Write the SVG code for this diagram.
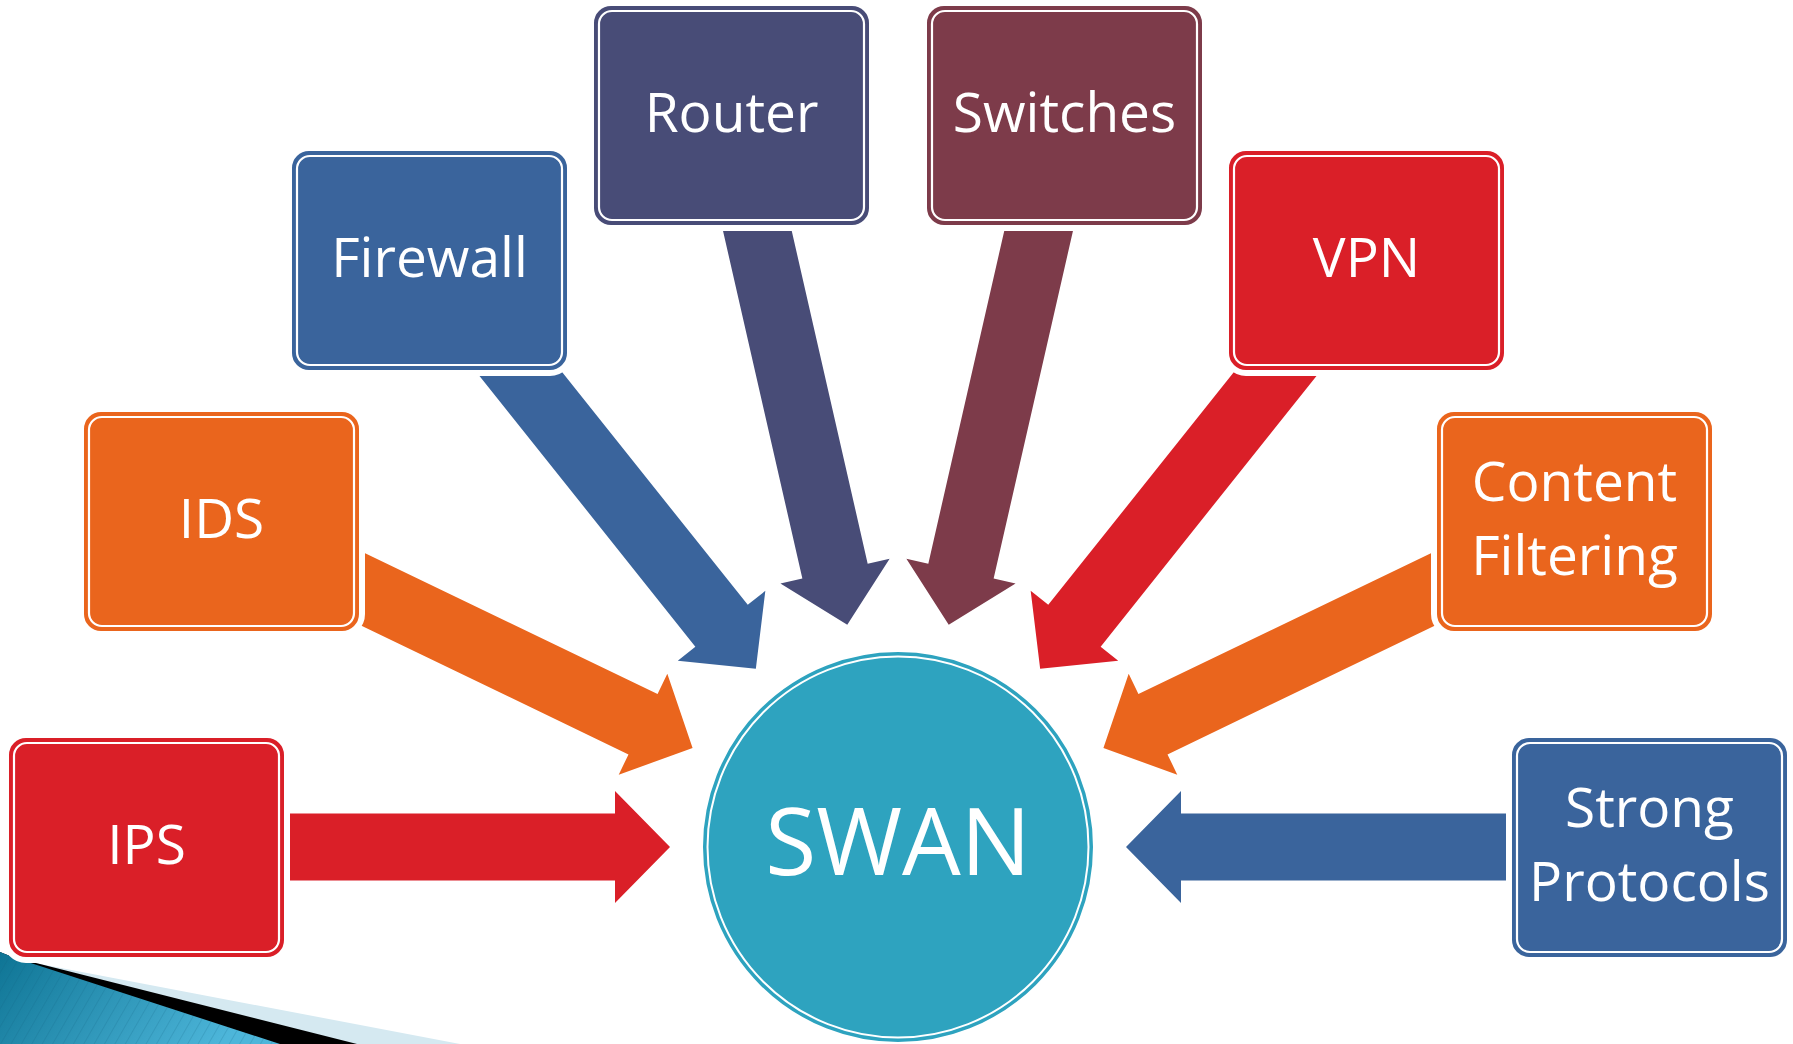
<svg xmlns="http://www.w3.org/2000/svg" width="1793" height="1044" viewBox="0 0 1793 1044">
<style>
.halo{fill:#fff;stroke:#fff;stroke-width:14}
.inner{fill:none;stroke:#fff;stroke-width:2.2}
.lbl{font-family:"Open Sans","Noto Sans","Liberation Sans",sans-serif;fill:#fff;font-size:55px;text-anchor:middle}
.red{fill:#DA1F28;stroke:#DA1F28}
.orange{fill:#EA651D;stroke:#EA651D}
.blue{fill:#3A649C;stroke:#3A649C}
.navy{fill:#484C77;stroke:#484C77}
.maroon{fill:#7D3B4A;stroke:#7D3B4A}
.box{stroke-width:2}
</style>
<defs>
<path id="arr" d="M228,0 L283,56 L283,33.5 L690,33.5 L690,-33.5 L283,-33.5 L283,-56 Z"/>
<linearGradient id="bg" x1="0" y1="0" x2="1" y2="0.3">
<stop offset="0" stop-color="#0E7494"/>
<stop offset="1" stop-color="#4DB6DA"/>
</linearGradient>
<pattern id="stripes" width="9" height="9" patternUnits="userSpaceOnUse" patternTransform="rotate(30)">
<rect width="9" height="9" fill="none"/>
<line x1="0" y1="0" x2="0" y2="9" stroke="#0A5E7A" stroke-width="1.5" stroke-opacity="0.25"/>
</pattern>
</defs>

<g id="decoration">
<polygon points="0,952 15,958 40,964 460,1044 0,1044" fill="#D5E9F1"/>
<polygon points="0,952 15,958 40,964 357,1044 0,1044" fill="#000"/>
<polygon points="0,952 15,958 40,966 280,1044 0,1044" fill="url(#bg)"/>
<polygon points="0,952 15,958 40,966 280,1044 0,1044" fill="url(#stripes)"/>
</g>

<g id="connectors">
<use href="#arr" transform="translate(898,847) rotate(180)" fill="#DA1F28"/>
<use href="#arr" transform="translate(898,847) rotate(205.714)" fill="#EA651D"/>
<use href="#arr" transform="translate(898,847) rotate(231.429)" fill="#3A649C"/>
<use href="#arr" transform="translate(898,847) rotate(257.143)" fill="#484C77"/>
<use href="#arr" transform="translate(898,847) rotate(282.857)" fill="#7D3B4A"/>
<use href="#arr" transform="translate(898,847) rotate(308.571)" fill="#DA1F28"/>
<use href="#arr" transform="translate(898,847) rotate(334.286)" fill="#EA651D"/>
<use href="#arr" transform="translate(898,847) rotate(360)" fill="#3A649C"/>
</g>

<g id="node-ips">
<rect class="halo" x="10" y="739" width="273" height="217" rx="16"/>
<rect class="box red" x="10" y="739" width="273" height="217" rx="16"/>
<rect class="inner" x="14" y="743" width="265" height="209" rx="13"/>
<text class="lbl" x="146.5" y="864">IPS</text>
</g>

<g id="node-ids">
<rect class="halo" x="85" y="413" width="273" height="217" rx="16"/>
<rect class="box orange" x="85" y="413" width="273" height="217" rx="16"/>
<rect class="inner" x="89" y="417" width="265" height="209" rx="13"/>
<text class="lbl" x="221.5" y="538">IDS</text>
</g>

<g id="node-firewall">
<rect class="halo" x="293" y="152" width="273" height="217" rx="16"/>
<rect class="box blue" x="293" y="152" width="273" height="217" rx="16"/>
<rect class="inner" x="297" y="156" width="265" height="209" rx="13"/>
<text class="lbl" x="429.5" y="277">Firewall</text>
</g>

<g id="node-router">
<rect class="halo" x="595" y="7" width="273" height="217" rx="16"/>
<rect class="box navy" x="595" y="7" width="273" height="217" rx="16"/>
<rect class="inner" x="599" y="11" width="265" height="209" rx="13"/>
<text class="lbl" x="731.5" y="132">Router</text>
</g>

<g id="node-switches">
<rect class="halo" x="928" y="7" width="273" height="217" rx="16"/>
<rect class="box maroon" x="928" y="7" width="273" height="217" rx="16"/>
<rect class="inner" x="932" y="11" width="265" height="209" rx="13"/>
<text class="lbl" x="1064.5" y="132">Switches</text>
</g>

<g id="node-vpn">
<rect class="halo" x="1230" y="152" width="273" height="217" rx="16"/>
<rect class="box red" x="1230" y="152" width="273" height="217" rx="16"/>
<rect class="inner" x="1234" y="156" width="265" height="209" rx="13"/>
<text class="lbl" x="1366.5" y="277">VPN</text>
</g>

<g id="node-content-filtering">
<rect class="halo" x="1438" y="413" width="273" height="217" rx="16"/>
<rect class="box orange" x="1438" y="413" width="273" height="217" rx="16"/>
<rect class="inner" x="1442" y="417" width="265" height="209" rx="13"/>
<text class="lbl" x="1574.5" y="501">Content</text>
<text class="lbl" x="1574.5" y="575">Filtering</text>
</g>

<g id="node-strong-protocols">
<rect class="halo" x="1513" y="739" width="273" height="217" rx="16"/>
<rect class="box blue" x="1513" y="739" width="273" height="217" rx="16"/>
<rect class="inner" x="1517" y="743" width="265" height="209" rx="13"/>
<text class="lbl" x="1649.5" y="827">Strong</text>
<text class="lbl" x="1649.5" y="901">Protocols</text>
</g>

<g id="node-swan">
<circle cx="898" cy="847" r="194" fill="#2EA3BF" stroke="#2EA3BF" stroke-width="2"/>
<circle cx="898" cy="847" r="190.5" fill="none" stroke="#fff" stroke-width="2"/>
<text x="898" y="875" font-family="'Open Sans','Noto Sans','Liberation Sans',sans-serif" font-size="93" fill="#fff" text-anchor="middle">SWAN</text>
</g>
</svg>
